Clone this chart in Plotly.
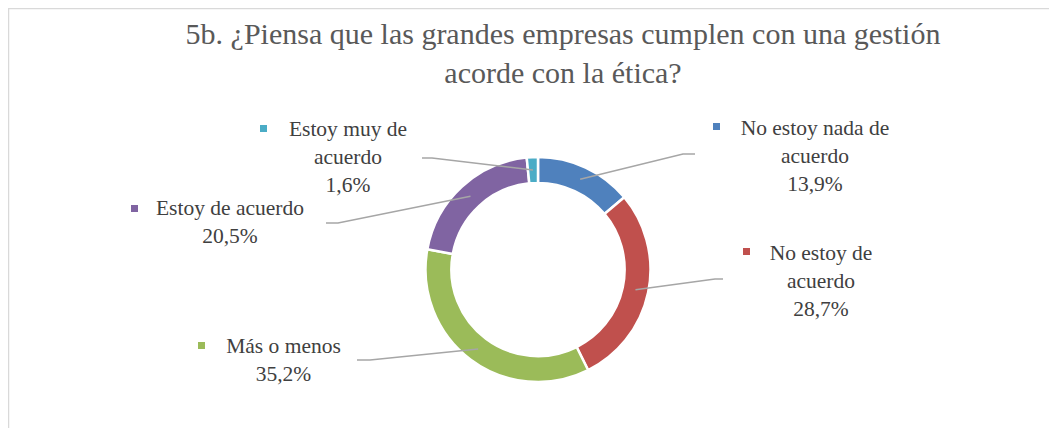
import math
import plotly.graph_objects as go

# ---- data ----
categories = ["No estoy nada de acuerdo", "No estoy de acuerdo", "Más o menos",
              "Estoy de acuerdo", "Estoy muy de acuerdo"]
values = [13.9, 28.7, 35.2, 20.5, 1.6]
label_lines = [["No estoy nada de", "acuerdo"], ["No estoy de", "acuerdo"], ["Más o menos"],
               ["Estoy de acuerdo"], ["Estoy muy de", "acuerdo"]]
colors = ["#4F81BD", "#C0504D", "#9BBB59", "#8064A2", "#4BACC6"]
title_text = "5b. ¿Piensa que las grandes empresas cumplen con una gestión<br>acorde con la ética?"

# ---- layout (screenshot pixels; figure sits at an 8px page offset) ----
W, H = 1057, 428
OFF = 8
CX, CY, R = 538, 269.5, 112.5
HOLE = 0.77
FONT = "Liberation Serif"
LFS = 21.5     # label font size
TFS = 30       # title font size

# text block: center x, first baseline y ; square (x0,y0) ; elbow ; end
label_pos = [(815, 137), (821, 262), (283.5, 355), (230, 217), (348, 138)]
square_pos = [(713, 123), (743, 248), (198, 342), (131, 205), (260, 125)]
elbows = [((683, 154), (695, 154)), ((715, 279), (723, 279)), ((370, 360), (357, 360)),
          ((338, 223), (326, 223)), ((432, 158), (422, 158))]


def px(x):
    return (x - OFF) / W


def py(y):
    return 1 - (y - OFF) / H


fig = go.Figure(go.Pie(
    labels=categories, values=values, sort=False, direction="clockwise", rotation=0,
    hole=HOLE, marker=dict(colors=colors, line=dict(color="white", width=2.5)),
    textinfo="none", showlegend=False, hoverinfo="label+percent",
    domain=dict(x=[px(CX - R), px(CX + R)], y=[py(CY + R), py(CY - R)]),
))

shapes = []
# border
shapes.append(dict(type="rect", xref="paper", yref="paper",
                   x0=px(8.5), y0=py(H + 30), x1=px(W + 30), y1=py(8.5),
                   line=dict(color="#D9D9D9", width=1.5), fillcolor="rgba(0,0,0,0)", layer="above"))

total = sum(values)
cum = 0
mid_r = R * (1 + HOLE) / 2
tx, ty, tt = [], [], []
for i, v in enumerate(values):
    mid = (cum + v / 2) / total * 2 * math.pi
    cum += v
    sx = CX + mid_r * math.sin(mid)
    sy = CY - mid_r * math.cos(mid)
    (ex, ey), (fx, fy) = elbows[i]
    shapes.append(dict(type="path", xref="x", yref="y",
                       path=f"M {sx},{sy} L {ex},{ey} L {fx},{fy}",
                       line=dict(color="#A6A6A6", width=1.5)))
    lines = label_lines[i] + [f"{v:.1f}%".replace(".", ",")]
    cx, bl = label_pos[i]
    n = len(lines)
    tx.append(cx)
    ty.append(bl + (n - 1) * 0.65 * LFS - 0.35 * LFS)
    tt.append("<br>".join(lines))
    sqx, sqy = square_pos[i]
    shapes.append(dict(type="rect", xref="x", yref="y",
                       x0=sqx, x1=sqx + 7, y0=sqy, y1=sqy + 7,
                       line=dict(width=0), fillcolor=colors[i]))

fig.add_trace(go.Scatter(x=tx, y=ty, text=tt, mode="text", textposition="middle center",
                         textfont=dict(family=FONT, size=LFS, color="#404040"),
                         hoverinfo="skip", showlegend=False, cliponaxis=False))

fig.update_layout(
    width=W, height=H, margin=dict(l=0, r=0, t=0, b=0),
    font=dict(family=FONT, color="#404040"),
    title=dict(text=title_text, x=px(563), xanchor="center", y=py(44), yanchor="top",
               font=dict(family=FONT, size=TFS, color="#595959")),
    xaxis=dict(range=[OFF, OFF + W], visible=False, fixedrange=True, domain=[0, 1]),
    yaxis=dict(range=[OFF + H, OFF], visible=False, fixedrange=True, domain=[0, 1]),
    paper_bgcolor="white", plot_bgcolor="rgba(0,0,0,0)",
    shapes=shapes)
fig.write_html("out.html")
